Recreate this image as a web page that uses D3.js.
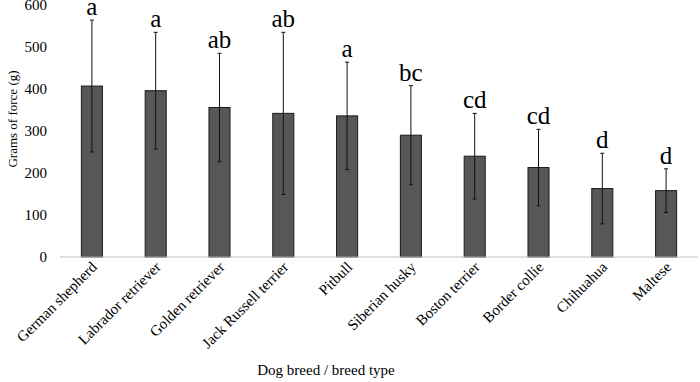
<!DOCTYPE html>
<html>
<head>
<meta charset="utf-8">
<style>
body { margin: 0; background: #fff; }
svg text { font-family: 'Liberation Serif', 'Times New Roman', serif; fill: #000; }
</style>
</head>
<body>
<svg></svg>
<script src="https://d3js.org/d3.v7.min.js"></script>
<script>

const breeds = ['German shepherd', 'Labrador retriever', 'Golden retriever', 'Jack Russell terrier',
    'Pitbull', 'Siberian husky', 'Boston terrier', 'Border collie', 'Chihuahua', 'Maltese'];
const means = [407, 396, 356, 342, 336, 290, 240, 213, 163, 158];
const sds = [157, 139, 129, 193, 128, 118, 102, 91, 84, 52];
const groups = ['a', 'a', 'ab', 'ab', 'a', 'bc', 'cd', 'cd', 'd', 'd'];
const yTicks = [0, 100, 200, 300, 400, 500, 600];

const width = 700;
const height = 382;
const plot = {left: 60, right: 698, top: 5, bottom: 257};

const svg = d3.select('svg')
    .attr('width', width)
    .attr('height', height);

const x = d3.scaleBand()
    .domain(breeds)
    .range([plot.left, plot.right])
    .paddingInner(0.67)
    .paddingOuter(0.335);

const y = d3.scaleLinear()
    .domain([0, 600])
    .range([plot.bottom, plot.top]);

// y tick labels, no axis line
svg.append('g')
    .selectAll('text')
    .data(yTicks)
    .join('text')
    .attr('x', 47)
    .attr('y', d => y(d))
    .attr('dy', '0.35em')
    .attr('text-anchor', 'end')
    .style('font-size', '15px')
    .text(d => d);

const bars = svg.append('g')
    .selectAll('g')
    .data(breeds.map((b, i) => ({breed: b, mean: means[i], sd: sds[i], group: groups[i]})))
    .join('g');

bars.append('rect')
    .attr('x', d => x(d.breed))
    .attr('y', d => y(d.mean))
    .attr('width', x.bandwidth())
    .attr('height', d => y(0) - y(d.mean))
    .attr('fill', '#575757')
    .attr('stroke', '#1a1a1a')
    .attr('stroke-width', 1);

// error bars
const cx = d => x(d.breed) + x.bandwidth() / 2;
bars.append('line')
    .attr('x1', cx).attr('x2', cx)
    .attr('y1', d => y(d.mean + d.sd))
    .attr('y2', d => y(d.mean - d.sd))
    .attr('stroke', '#111')
    .attr('stroke-width', 1);
bars.selectAll('.cap')
    .data(d => [d.mean + d.sd, d.mean - d.sd].map(v => ({v, c: cx(d)})))
    .join('line')
    .attr('class', 'cap')
    .attr('x1', d => d.c - 2).attr('x2', d => d.c + 2)
    .attr('y1', d => y(d.v)).attr('y2', d => y(d.v))
    .attr('stroke', '#111')
    .attr('stroke-width', 1);

bars.append('text')
    .attr('x', cx)
    .attr('y', d => y(d.mean + d.sd) - 5)
    .attr('text-anchor', 'middle')
    .style('font-size', '25px')
    .text(d => d.group);

// x axis line
svg.append('line')
    .attr('x1', plot.left).attr('x2', plot.right)
    .attr('y1', y(0)).attr('y2', y(0))
    .attr('stroke', '#bfbfbf')
    .attr('stroke-width', 1);

// x labels
svg.append('g')
    .selectAll('text')
    .data(breeds)
    .join('text')
    .attr('transform', d => `translate(${x(d) + x.bandwidth() / 2 + 6}, 268) rotate(-45)`)
    .attr('text-anchor', 'end')
    .style('font-size', '15px')
    .text(d => d);

svg.append('text')
    .attr('x', 326)
    .attr('y', 375)
    .attr('text-anchor', 'middle')
    .style('font-size', '15px')
    .text('Dog breed / breed type');

svg.append('text')
    .attr('transform', `translate(12, ${(plot.top + plot.bottom) / 2 - 12}) rotate(-90)`)
    .attr('text-anchor', 'middle')
    .attr('dy', '0.35em')
    .style('font-size', '13px')
    .text('Grams of force (g)');

</script>
</body>
</html>
